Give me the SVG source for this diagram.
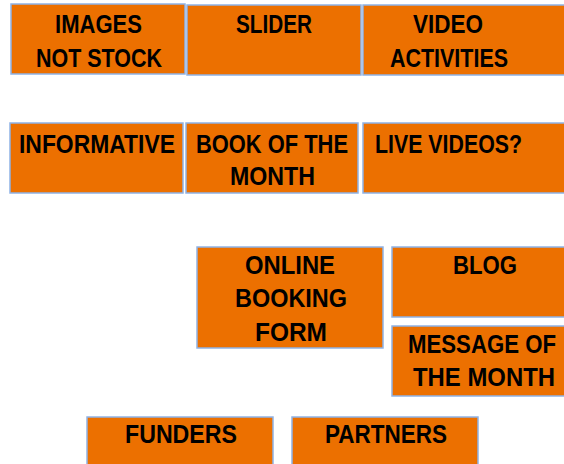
<svg xmlns="http://www.w3.org/2000/svg" width="564" height="464" viewBox="0 0 564 464">
  <style>
    .box { fill: #EC7000; stroke: #8FB3E6; stroke-width: 1.5; }
    .lbl { font-family: "Liberation Sans", Arial, sans-serif; font-weight: bold; font-size: 25px; fill: #000; text-anchor: middle; }
  </style>
  <rect width="564" height="464" fill="#fff"/>

  <g id="images-not-stock">
    <rect class="box" x="11" y="4" width="174" height="70"/>
    <text class="lbl" x="98.5" y="33" textLength="87" lengthAdjust="spacingAndGlyphs">IMAGES</text>
    <text class="lbl" x="99" y="67" textLength="126" lengthAdjust="spacingAndGlyphs">NOT STOCK</text>
  </g>
  <g id="slider">
    <rect class="box" x="187" y="5" width="174" height="70"/>
    <text class="lbl" x="274" y="33" textLength="76" lengthAdjust="spacingAndGlyphs">SLIDER</text>
  </g>
  <g id="video-activities">
    <rect class="box" x="363" y="5" width="210" height="70"/>
    <text class="lbl" x="448" y="33" textLength="70" lengthAdjust="spacingAndGlyphs">VIDEO</text>
    <text class="lbl" x="449" y="67" textLength="118" lengthAdjust="spacingAndGlyphs">ACTIVITIES</text>
  </g>

  <g id="informative">
    <rect class="box" x="10" y="123" width="173" height="70"/>
    <text class="lbl" x="97" y="153" textLength="156" lengthAdjust="spacingAndGlyphs">INFORMATIVE</text>
  </g>
  <g id="book-of-the-month">
    <rect class="box" x="186" y="123" width="172" height="70"/>
    <text class="lbl" x="272" y="153" textLength="152" lengthAdjust="spacingAndGlyphs">BOOK OF THE</text>
    <text class="lbl" x="272.5" y="185" textLength="85" lengthAdjust="spacingAndGlyphs">MONTH</text>
  </g>
  <g id="live-videos">
    <rect class="box" x="363" y="123" width="210" height="70"/>
    <text class="lbl" x="448.5" y="153" textLength="147" lengthAdjust="spacingAndGlyphs">LIVE VIDEOS?</text>
  </g>

  <g id="online-booking-form">
    <rect class="box" x="197" y="247" width="186" height="101"/>
    <text class="lbl" x="290" y="274" textLength="90" lengthAdjust="spacingAndGlyphs">ONLINE</text>
    <text class="lbl" x="291" y="307" textLength="112" lengthAdjust="spacingAndGlyphs">BOOKING</text>
    <text class="lbl" x="291" y="341" textLength="72" lengthAdjust="spacingAndGlyphs">FORM</text>
  </g>
  <g id="blog">
    <rect class="box" x="392" y="247" width="180" height="70"/>
    <text class="lbl" x="485" y="274" textLength="64" lengthAdjust="spacingAndGlyphs">BLOG</text>
  </g>
  <g id="message-of-the-month">
    <rect class="box" x="392" y="326" width="180" height="70"/>
    <text class="lbl" x="482" y="353" font-size="23.5" textLength="148" lengthAdjust="spacingAndGlyphs">MESSAGE OF</text>
    <text class="lbl" x="484" y="386" textLength="142" lengthAdjust="spacingAndGlyphs">THE MONTH</text>
  </g>

  <g id="funders">
    <rect class="box" x="87" y="417" width="186" height="60"/>
    <text class="lbl" x="181" y="443" textLength="112" lengthAdjust="spacingAndGlyphs">FUNDERS</text>
  </g>
  <g id="partners">
    <rect class="box" x="292" y="417" width="186" height="60"/>
    <text class="lbl" x="386" y="443" textLength="122" lengthAdjust="spacingAndGlyphs">PARTNERS</text>
  </g>
</svg>
